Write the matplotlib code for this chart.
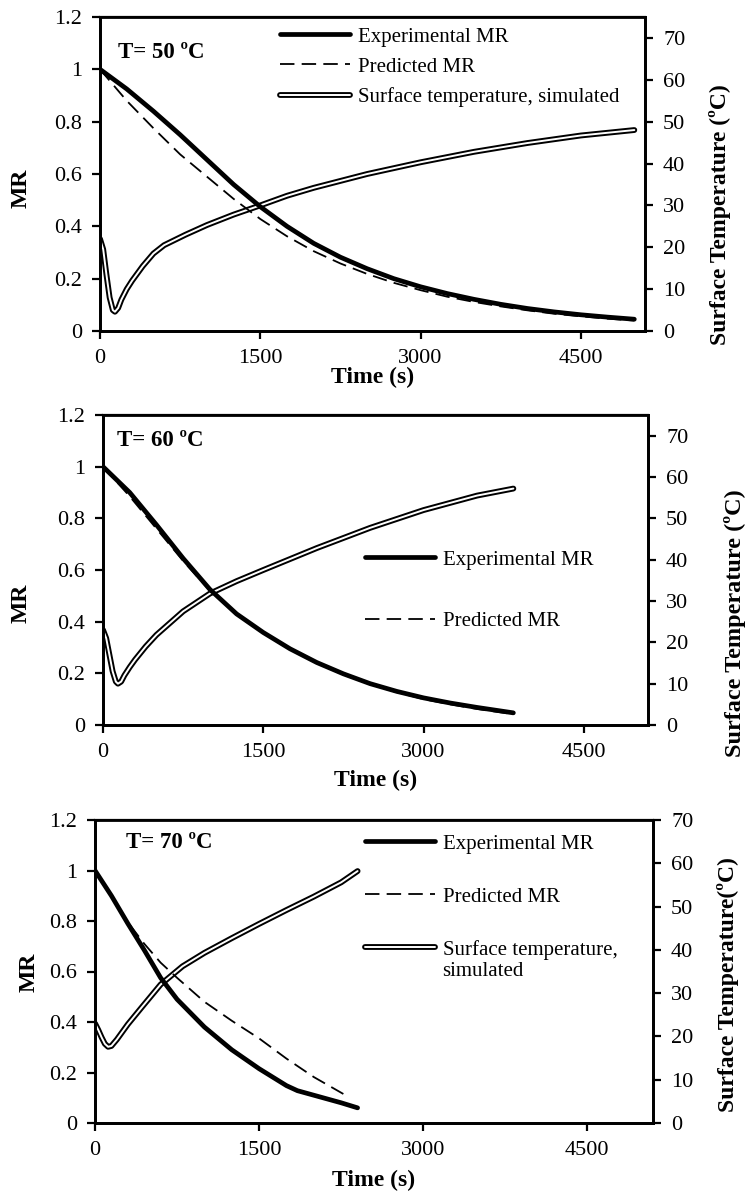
import matplotlib
matplotlib.use("Agg")
import matplotlib.pyplot as plt
import matplotlib.patheffects as pe

plt.rcParams['font.family'] = ['Liberation Serif', 'DejaVu Serif']

# ---- data ----
# T = 50 C
t1 = [0, 250, 500, 750, 1000, 1250, 1500, 1750, 2000, 2250, 2500, 2750, 3000,
      3250, 3500, 3750, 4000, 4250, 4500, 4750, 5000]
exp1 = [1.0, 0.925, 0.84, 0.75, 0.655, 0.56, 0.475, 0.40, 0.335, 0.282, 0.238,
        0.20, 0.169, 0.143, 0.121, 0.102, 0.086, 0.073, 0.062, 0.053, 0.045]
pred1 = [1.0, 0.88, 0.775, 0.675, 0.59, 0.505, 0.428, 0.362, 0.305, 0.258, 0.218,
         0.184, 0.156, 0.131, 0.111, 0.094, 0.079, 0.066, 0.056, 0.047, 0.04]
tt1 = [0, 30, 60, 90, 120, 140, 170, 200, 250, 300, 400, 500, 600, 800, 1000,
       1250, 1500, 1750, 2000, 2500, 3000, 3500, 4000, 4500, 5000]
temp1 = [22, 19.5, 13.5, 8, 5, 4.6, 5.5, 7.5, 10, 12, 15.5, 18.5, 20.5, 23, 25.3,
         27.8, 30, 32.3, 34.2, 37.5, 40.3, 42.8, 44.9, 46.7, 48]

# T = 60 C
t2 = [0, 250, 500, 750, 1000, 1250, 1500, 1750, 2000, 2250, 2500, 2750, 3000,
      3250, 3500, 3840]
exp2 = [1.0, 0.90, 0.775, 0.645, 0.525, 0.43, 0.358, 0.295, 0.242, 0.198, 0.16,
        0.13, 0.105, 0.085, 0.068, 0.047]
pred2 = [1.0, 0.885, 0.76, 0.635, 0.52, 0.43, 0.357, 0.294, 0.24, 0.195, 0.158,
         0.127, 0.10, 0.08, 0.062, 0.042]
tt2 = [0, 30, 60, 90, 120, 140, 170, 200, 250, 300, 400, 500, 750, 1000, 1250,
       1500, 2000, 2500, 3000, 3500, 3840]
temp2 = [23, 21, 17, 13, 10.5, 10, 10.5, 12, 14, 15.8, 19, 21.8, 27.5, 31.8,
         34.8, 37.5, 42.8, 47.7, 52, 55.5, 57.2]

# T = 70 C
t3 = [0, 150, 300, 450, 600, 750, 1000, 1250, 1500, 1750, 1850, 2000, 2250, 2400]
exp3 = [1.0, 0.9, 0.79, 0.685, 0.575, 0.49, 0.38, 0.29, 0.215, 0.148, 0.128,
        0.11, 0.08, 0.06]
tp3 = [0, 150, 300, 450, 600, 750, 1000, 1250, 1500, 1750, 2000, 2270]
pred3 = [1.0, 0.9, 0.795, 0.71, 0.635, 0.575, 0.48, 0.405, 0.335, 0.255, 0.182,
         0.115]
tt3 = [0, 30, 60, 90, 120, 150, 200, 300, 423, 600, 800, 1000, 1250, 1500,
       1750, 2000, 2250, 2400]
temp3 = [23, 21.5, 19.8, 18.3, 17.6, 17.8, 19.3, 22.8, 26.6, 32, 36.2, 39.3,
         42.7, 46, 49.2, 52.3, 55.6, 58.2]

mr_ticks = [0, 0.2, 0.4, 0.6, 0.8, 1.0, 1.2]
mr_labels = ['0', '0.2', '0.4', '0.6', '0.8', '1', '1.2']
time_ticks = [0, 1500, 3000, 4500]
temp_ticks = [0, 10, 20, 30, 40, 50, 60, 70]

W, H = 745, 1192
FS = 15
fig = plt.figure(figsize=(W / 100, H / 100), dpi=100)


def rect(l, t, r, b):
    return [l / W, 1 - b / H, (r - l) / W, (b - t) / H]


def fx(x):
    return x / W


def fy(y):
    return 1 - y / H


dbl = [pe.Stroke(linewidth=4.2, foreground='black'), pe.Normal()]


def panel(box, title, title_xy, texp, mexp, tpred, mpred, ttemp, temp,
          tmax, leg_xy, leg_space, n_leg, rlabel, rlab_xy, rlab_fs,
          mr_xy, time_y):
    ax = fig.add_axes(rect(*box))
    ax2 = ax.twinx()
    ax.set_zorder(ax2.get_zorder() + 1)
    ax.patch.set_visible(False)

    l_temp, = ax2.plot(ttemp, temp, color='white', lw=1.4,
                       solid_capstyle='round', path_effects=dbl)
    l_exp, = ax.plot(texp, mexp, color='black', lw=3.4, solid_capstyle='round',
                     solid_joinstyle='round')
    l_pred, = ax.plot(tpred, mpred, color='black', lw=1.3, dashes=(8, 4))

    ax.set_xlim(0, 5100)
    ax.set_ylim(0, 1.2)
    ax2.set_ylim(0, tmax)
    ax.set_xticks(time_ticks)
    ax.set_yticks(mr_ticks)
    ax.set_yticklabels(mr_labels)
    ax2.set_yticks(temp_ticks)
    for a in (ax, ax2):
        a.tick_params(labelsize=16, width=1.6, length=6, direction='out', pad=7)
        for s in a.spines.values():
            s.set_linewidth(2.0)
    ax.spines['top'].set_linewidth(1.6)

    ax.text(fx(title_xy[0]), fy(title_xy[1]), title, transform=fig.transFigure,
            fontsize=16.5, fontweight='bold', ha='left', va='center')

    handles = [l_exp, l_pred, l_temp][:n_leg]
    labels = ['Experimental MR', 'Predicted MR', 'Surface temperature, simulated'][:n_leg]
    if n_leg == 3 and leg_space > 1:
        labels[2] = 'Surface temperature,'
    ax.legend(handles, labels, loc='upper left',
              bbox_to_anchor=(fx(leg_xy[0]), fy(leg_xy[1])),
              bbox_transform=fig.transFigure, frameon=False, fontsize=FS,
              handlelength=3.35, handletextpad=0.4, labelspacing=leg_space,
              borderpad=0, borderaxespad=0)

    fig.text(fx((box[0] + box[2]) / 2), fy(time_y), 'Time (s)', fontsize=17,
             fontweight='bold', ha='center', va='center')
    fig.text(fx(mr_xy[0]), fy(mr_xy[1]), 'MR', fontsize=17, fontweight='bold',
             rotation=90, ha='center', va='center')
    fig.text(fx(rlab_xy[0]), fy(rlab_xy[1]), rlabel, fontsize=rlab_fs,
             fontweight='bold', rotation=90, ha='center', va='center')
    return ax


panel((100, 17, 645, 331), 'T= 50 ºC', (118, 52), t1, exp1, t1, pred1,
      tt1, temp1, 75, (280, 27), 0.5, 3, 'Surface Temperature (ºC)',
      (720, 215), 17, (21, 188), 377)

panel((103, 415, 648, 725), 'T= 60 ºC', (117, 440), t2, exp2, t2, pred2,
      tt2, temp2, 75, (365, 550), 2.0, 2, 'Surface Temperature (ºC)',
      (735, 623), 17.5, (21, 603), 780)

panel((95, 820, 653, 1123), 'T= 70 ºC', (126, 843), t3, exp3, tp3, pred3,
      tt3, temp3, 70, (365, 834), 1.6, 3, 'Surface Temperature(ºC)',
      (728, 985), 17, (29, 972), 1180)
fig.text(fx(442), fy(972), 'simulated', fontsize=FS, ha='left', va='center')

fig.savefig('out.png', dpi=100)
